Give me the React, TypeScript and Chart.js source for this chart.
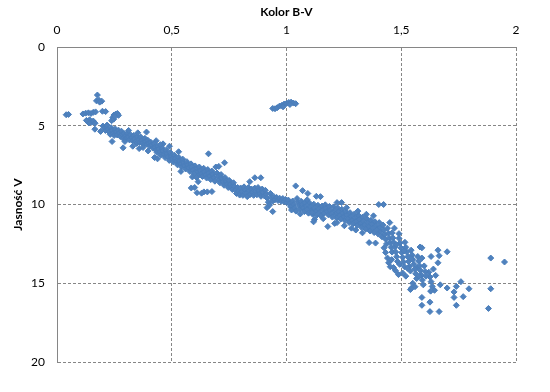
import React, { useEffect, useRef } from "react";
import { Chart, registerables } from "chart.js";

Chart.register(...registerables);

const xTickValues = [0, 0.5, 1, 1.5, 2];
const xTickLabels = ["0", "0,5", "1", "1,5", "2"];
const yTickValues = [0, 5, 10, 15, 20];
const yTickLabels = ["0", "5", "10", "15", "20"];

const hotStars: [number, number][] = [
  [0.04, 4.3], [0.05, 4.28],
  [0.113, 4.25], [0.125, 4.2], [0.137, 4.18], [0.148, 4.22], [0.158, 4.15], [0.168, 4.12],
  [0.198, 4.08], [0.212, 4.1],
  [0.176, 3.05], [0.172, 3.42], [0.183, 3.38], [0.195, 3.44], [0.186, 3.5],
  [0.243, 4.48], [0.248, 4.32], [0.256, 4.26], [0.263, 4.22], [0.268, 4.34], [0.238, 4.68], [0.247, 4.58], [0.252, 4.42],
  [0.134, 4.72], [0.142, 4.62], [0.151, 4.78], [0.158, 4.7], [0.166, 4.84], [0.139, 4.82], [0.128, 4.66],
  [0.165, 5.22], [0.19, 5.36],
];

const giants: [number, number][] = [
  [0.94, 3.9], [0.95, 3.92], [0.96, 3.85], [0.97, 3.75], [0.98, 3.7], [0.99, 3.62], [1.0, 3.58],
  [1.01, 3.52], [1.02, 3.5], [1.03, 3.56], [1.04, 3.6], [0.985, 3.8], [1.015, 3.65],
];

const upperMainSequence: [number, number][] = [
  [0.2, 5.02], [0.205, 5.18], [0.211, 5.3], [0.218, 4.96], [0.222, 5.22], [0.227, 5.4], [0.232, 5.55], [0.236, 5.12],
  [0.241, 5.3], [0.245, 5.48], [0.249, 5.62], [0.254, 5.2], [0.259, 5.38], [0.262, 5.58], [0.268, 5.28], [0.272, 5.46],
  [0.276, 5.68], [0.281, 5.35], [0.285, 5.55], [0.289, 5.82], [0.293, 5.5], [0.298, 5.66], [0.302, 5.8], [0.296, 6.0],
  [0.307, 5.48], [0.311, 5.7], [0.316, 5.9], [0.321, 5.58], [0.326, 5.76], [0.329, 5.95], [0.334, 5.62], [0.338, 5.84],
  [0.342, 6.02], [0.347, 6.12], [0.351, 5.7], [0.356, 5.88], [0.36, 6.06], [0.365, 5.72], [0.369, 5.94], [0.373, 6.1],
  [0.378, 6.22], [0.383, 5.8], [0.386, 6.0], [0.391, 6.16], [0.396, 5.92], [0.4, 6.1], [0.404, 6.3],
  [0.24, 6.0], [0.288, 6.4], [0.39, 5.4],
  [0.33, 6.3], [0.358, 6.45], [0.397, 6.6], [0.352, 5.45], [0.312, 5.3], [0.432, 5.95], [0.462, 6.15], [0.375, 6.38],
  [0.409, 6.05], [0.413, 6.22], [0.418, 6.42], [0.423, 6.15], [0.427, 6.36], [0.431, 6.55], [0.436, 6.7], [0.44, 6.3],
  [0.444, 6.48], [0.449, 6.66], [0.453, 6.85], [0.458, 6.4], [0.462, 6.6], [0.466, 6.82], [0.471, 7.02], [0.476, 6.55],
  [0.48, 6.78], [0.484, 6.98], [0.489, 7.2], [0.494, 6.7], [0.498, 6.92], [0.503, 7.1], [0.507, 7.3], [0.512, 6.88],
  [0.516, 7.06], [0.521, 7.26], [0.525, 7.48], [0.53, 7.0], [0.534, 7.22], [0.539, 7.42], [0.543, 7.62], [0.548, 7.12],
  [0.552, 7.34], [0.556, 7.54], [0.561, 7.74], [0.566, 7.28], [0.57, 7.48], [0.574, 7.68], [0.579, 7.9], [0.584, 7.42],
  [0.588, 7.62], [0.593, 7.82], [0.597, 8.05],
  [0.45, 6.2], [0.49, 6.3], [0.425, 7.02], [0.438, 7.1], [0.53, 6.65], [0.54, 7.9], [0.59, 8.25], [0.608, 8.28],
  [0.585, 8.95], [0.6, 8.92], [0.61, 9.25], [0.615, 8.55], [0.64, 9.2], [0.655, 9.2], [0.675, 9.18], [0.63, 9.28],
  [0.66, 6.78], [0.73, 7.35],
];

const middleMainSequence: [number, number][] = [
  [0.602, 7.55], [0.607, 7.75], [0.611, 7.95], [0.616, 8.15], [0.62, 7.62], [0.625, 7.85], [0.63, 8.05], [0.634, 8.22],
  [0.639, 7.7], [0.643, 7.92], [0.648, 8.12], [0.652, 8.32], [0.657, 7.78], [0.661, 8.0], [0.666, 8.2], [0.67, 8.42],
  [0.675, 7.88], [0.679, 8.1], [0.684, 8.3], [0.688, 8.52], [0.692, 7.62], [0.705, 7.58], [0.697, 8.0], [0.701, 8.22],
  [0.706, 8.44], [0.71, 8.62], [0.715, 8.1], [0.719, 8.34], [0.724, 8.56], [0.728, 8.78], [0.733, 8.3], [0.737, 8.5],
  [0.742, 8.72], [0.746, 8.92], [0.751, 8.48], [0.756, 8.7], [0.76, 8.9], [0.764, 9.05], [0.769, 8.62], [0.773, 8.85],
  [0.778, 9.1], [0.782, 9.3], [0.787, 8.92], [0.791, 9.15], [0.796, 9.4],
  [0.84, 8.55], [0.862, 8.3], [0.888, 8.3],
  [0.8, 8.95], [0.805, 9.18], [0.81, 9.42], [0.815, 8.88], [0.82, 9.08], [0.825, 9.3], [0.829, 9.5], [0.834, 8.92],
  [0.838, 9.12], [0.843, 9.36], [0.848, 9.02], [0.852, 9.22], [0.857, 9.42], [0.862, 8.96], [0.866, 9.16], [0.871, 9.38],
  [0.876, 8.92], [0.88, 9.12], [0.885, 9.32], [0.889, 9.48], [0.894, 9.02], [0.898, 9.22], [0.903, 9.45], [0.908, 9.1],
  [0.912, 9.35], [0.916, 9.6], [0.921, 9.85], [0.925, 10.05], [0.93, 9.3], [0.934, 9.55], [0.939, 9.8], [0.915, 10.2],
  [0.94, 10.45], [0.945, 9.5], [0.95, 9.7], [0.957, 9.55], [0.963, 9.75], [0.97, 9.6], [0.977, 9.8], [0.984, 9.62],
  [0.99, 9.82], [0.996, 9.68],
  [1.002, 9.88], [1.008, 9.72], [1.013, 9.95], [1.018, 10.15], [1.022, 10.35], [1.027, 9.78], [1.032, 10.0], [1.036, 10.22],
  [1.041, 10.42], [1.046, 9.62], [1.05, 9.86], [1.055, 10.06], [1.06, 10.28], [1.064, 9.8], [1.069, 10.02], [1.073, 10.22],
  [1.078, 10.45], [1.082, 9.88], [1.087, 10.1], [1.091, 10.32], [1.096, 10.55], [1.1, 9.9], [1.105, 10.15], [1.11, 10.38],
  [1.114, 10.62], [1.119, 9.98], [1.123, 10.22], [1.128, 10.45], [1.132, 10.68], [1.137, 10.05], [1.141, 10.28], [1.146, 10.5],
  [1.15, 10.72], [1.155, 10.1], [1.16, 10.32], [1.164, 10.55], [1.169, 10.02], [1.173, 10.25], [1.178, 10.45], [1.182, 10.65],
  [1.187, 10.12], [1.191, 10.36], [1.196, 10.58], [1.2, 10.8],
  [1.04, 8.82], [1.07, 9.12], [1.093, 9.3], [1.13, 9.48], [1.148, 9.5], [1.11, 10.5], [1.122, 10.95], [1.118, 11.1],
  [1.18, 11.4], [1.22, 9.88], [1.24, 9.88], [1.22, 11.15], [1.06, 10.6], [1.16, 10.9], [1.09, 9.7],
];

const lowerMainSequence: [number, number][] = [
  [1.205, 10.15], [1.209, 10.4], [1.214, 10.62], [1.218, 10.85], [1.223, 10.22], [1.227, 10.45], [1.232, 10.7], [1.237, 10.92],
  [1.241, 10.3], [1.246, 10.55], [1.25, 10.78], [1.255, 11.02], [1.259, 10.45], [1.264, 10.68], [1.268, 10.92], [1.273, 11.15],
  [1.277, 10.52], [1.282, 10.76], [1.286, 11.0], [1.291, 11.22], [1.296, 10.6], [1.3, 10.85], [1.305, 11.08], [1.309, 11.32],
  [1.314, 10.7], [1.318, 10.95], [1.323, 11.2], [1.327, 11.45], [1.332, 10.8], [1.336, 11.05], [1.341, 11.3], [1.346, 11.55],
  [1.35, 10.9], [1.355, 11.15], [1.359, 11.4], [1.364, 11.68], [1.368, 11.0], [1.373, 11.25], [1.377, 11.5], [1.382, 11.78],
  [1.386, 11.1], [1.391, 11.35], [1.395, 11.6], [1.4, 11.88],
  [1.21, 11.2], [1.252, 11.35], [1.283, 11.5], [1.302, 11.62], [1.331, 11.8], [1.262, 10.2], [1.311, 10.42], [1.348, 10.62],
  [1.379, 10.72],
  [1.36, 12.42], [1.388, 12.45], [1.402, 10.0], [1.423, 10.0],
  [1.404, 11.15], [1.408, 11.45], [1.412, 11.72], [1.416, 12.05], [1.42, 11.3], [1.424, 11.62], [1.428, 11.9], [1.432, 12.2],
  [1.436, 12.5], [1.44, 11.5], [1.444, 11.82], [1.448, 12.12], [1.452, 12.42], [1.456, 12.72], [1.46, 13.02], [1.425, 12.75],
  [1.432, 13.05], [1.44, 13.4], [1.445, 13.7], [1.452, 13.95], [1.46, 11.8], [1.464, 12.12], [1.468, 12.42], [1.472, 12.72],
  [1.476, 13.02], [1.48, 13.32], [1.484, 13.62], [1.466, 14.0], [1.475, 14.2], [1.488, 14.45], [1.49, 12.15], [1.494, 12.45],
  [1.498, 12.75], [1.502, 13.05], [1.506, 13.35], [1.51, 13.65], [1.514, 13.95], [1.506, 14.35], [1.52, 14.55], [1.516, 12.4],
  [1.52, 12.72], [1.524, 13.02], [1.528, 13.32], [1.532, 13.62], [1.536, 13.92], [1.54, 14.22], [1.543, 12.9], [1.547, 13.2],
  [1.551, 13.5], [1.555, 13.8], [1.559, 14.1], [1.563, 14.4], [1.567, 14.7], [1.572, 13.3], [1.576, 13.6], [1.58, 13.9],
  [1.584, 14.2], [1.588, 14.5], [1.592, 14.8], [1.596, 15.1], [1.6, 13.9], [1.604, 14.25], [1.608, 14.55], [1.55, 15.0],
  [1.56, 15.22], [1.45, 11.15], [1.47, 11.5], [1.49, 11.85],
  [1.458, 13.5], [1.493, 13.8], [1.527, 14.05], [1.478, 12.55], [1.512, 12.95], [1.545, 13.45], [1.578, 14.55],
];

const faintRedStars: [number, number][] = [
  [1.582, 12.7], [1.59, 12.75],
  [1.63, 13.3], [1.66, 12.9], [1.665, 13.25], [1.7, 13.0], [1.66, 13.7], [1.59, 13.4], [1.57, 14.0],
  [1.62, 14.3], [1.625, 14.6], [1.63, 14.9], [1.635, 15.2], [1.645, 15.45], [1.65, 14.5], [1.64, 14.1], [1.628, 15.5],
  [1.54, 15.4], [1.545, 15.3],
  [1.59, 15.9], [1.59, 16.4], [1.625, 16.2], [1.625, 16.8], [1.665, 16.8],
  [1.67, 15.1], [1.7, 15.3], [1.74, 15.2], [1.76, 14.9], [1.73, 15.55], [1.73, 15.9], [1.77, 15.85], [1.74, 16.4], [1.795, 15.35],
  [1.89, 13.4], [1.95, 13.65], [1.89, 15.35], [1.88, 16.6],
];

const groups = [hotStars, giants, upperMainSequence, middleMainSequence, lowerMainSequence, faintRedStars];

export default function App() {
  const canvasRef = useRef<HTMLCanvasElement | null>(null);

  useEffect(() => {
    if (!canvasRef.current) return;
    const gridColor = "#868686";
    const tickFont = { family: "Lato, 'Open Sans', sans-serif", size: 12 };
    const titleFont = { family: "Lato, 'Open Sans', sans-serif", size: 12, weight: "bold" as const };
    const chart = new Chart(canvasRef.current, {
      type: "scatter",
      data: {
        datasets: groups.map((g) => ({
          data: g.map(([x, y]) => ({ x, y })),
          pointStyle: "rectRot",
          pointRadius: 3,
          pointBorderWidth: 1,
          backgroundColor: "#4F81BD",
          borderColor: "#4A7EBB",
        })),
      },
      options: {
        animation: false,
        responsive: false,
        layout: { padding: { left: 0, top: 0, right: 34, bottom: 30 } },
        plugins: { legend: { display: false }, tooltip: { enabled: false } },
        scales: {
          x: {
            type: "linear",
            position: "top",
            min: 0,
            max: 2,
            ticks: {
              stepSize: 0.5,
              padding: 10,
              color: "#000",
              font: tickFont,
              callback: (v: any) => {
                const i = xTickValues.indexOf(Number(v));
                return i >= 0 ? xTickLabels[i] : "";
              },
            },
            grid: { color: gridColor, drawTicks: false, lineWidth: 1 },
            border: { display: true, color: gridColor, dash: [3, 2] },
            title: { display: true, text: "Kolor B-V", color: "#000", font: titleFont, padding: { top: 5, bottom: 0 } },
            afterFit: (s: any) => {
              s.height = 47;
            },
          },
          y: {
            type: "linear",
            reverse: true,
            min: 0,
            max: 20,
            ticks: {
              stepSize: 5,
              padding: 12,
              color: "#000",
              font: tickFont,
              callback: (v: any) => {
                const i = yTickValues.indexOf(Number(v));
                return i >= 0 ? yTickLabels[i] : "";
              },
            },
            grid: { color: gridColor, drawTicks: false, lineWidth: 1 },
            border: { display: true, color: gridColor, dash: [3, 2] },
            title: { display: true, text: "Jasność V", color: "#000", font: titleFont, padding: { top: 11, bottom: 0 } },
            afterFit: (s: any) => {
              s.width = 57;
            },
          },
        },
      },
    });
    return () => chart.destroy();
  }, []);

  return (
    <div style={{ position: "fixed", left: 0, top: 0, width: 550, height: 392, background: "#fff" }}>
      <canvas ref={canvasRef} width={550} height={392} style={{ display: "block" }} />
    </div>
  );
}
